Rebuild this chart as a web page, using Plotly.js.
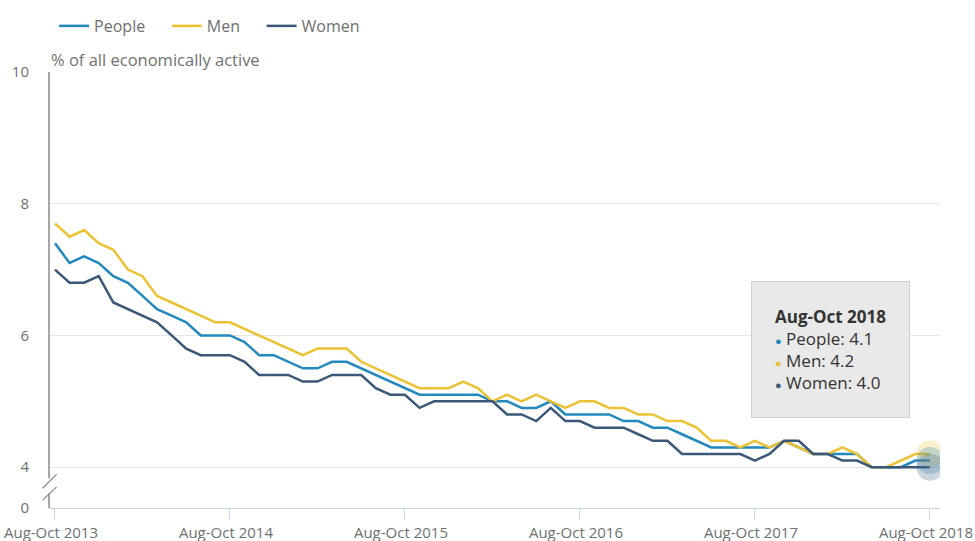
<!DOCTYPE html>
<html>
<head>
<meta charset="utf-8">
<script src="https://cdn.plot.ly/plotly-3.0.1.min.js"></script>
<style>
  html, body { margin: 0; padding: 0; background: #ffffff; }
  #chart { width: 975px; height: 541px; }
</style>
</head>
<body>
<div id="chart"></div>
<script>
// ---- Data ----
const categories = [
  "Aug-Oct 2013","Sep-Nov 2013","Oct-Dec 2013","Nov-Jan 2014","Dec-Feb 2014","Jan-Mar 2014",
  "Feb-Apr 2014","Mar-May 2014","Apr-Jun 2014","May-Jul 2014","Jun-Aug 2014","Jul-Sep 2014",
  "Aug-Oct 2014","Sep-Nov 2014","Oct-Dec 2014","Nov-Jan 2015","Dec-Feb 2015","Jan-Mar 2015",
  "Feb-Apr 2015","Mar-May 2015","Apr-Jun 2015","May-Jul 2015","Jun-Aug 2015","Jul-Sep 2015",
  "Aug-Oct 2015","Sep-Nov 2015","Oct-Dec 2015","Nov-Jan 2016","Dec-Feb 2016","Jan-Mar 2016",
  "Feb-Apr 2016","Mar-May 2016","Apr-Jun 2016","May-Jul 2016","Jun-Aug 2016","Jul-Sep 2016",
  "Aug-Oct 2016","Sep-Nov 2016","Oct-Dec 2016","Nov-Jan 2017","Dec-Feb 2017","Jan-Mar 2017",
  "Feb-Apr 2017","Mar-May 2017","Apr-Jun 2017","May-Jul 2017","Jun-Aug 2017","Jul-Sep 2017",
  "Aug-Oct 2017","Sep-Nov 2017","Oct-Dec 2017","Nov-Jan 2018","Dec-Feb 2018","Jan-Mar 2018",
  "Feb-Apr 2018","Mar-May 2018","Apr-Jun 2018","May-Jul 2018","Jun-Aug 2018","Jul-Sep 2018",
  "Aug-Oct 2018"
];

const people = [
  7.4, 7.1, 7.2, 7.1, 6.9, 6.8, 6.6, 6.4, 6.3, 6.2, 6.0, 6.0,
  6.0, 5.9, 5.7, 5.7, 5.6, 5.5, 5.5, 5.6, 5.6, 5.5, 5.4, 5.3,
  5.2, 5.1, 5.1, 5.1, 5.1, 5.1, 5.0, 5.0, 4.9, 4.9, 5.0, 4.8,
  4.8, 4.8, 4.8, 4.7, 4.7, 4.6, 4.6, 4.5, 4.4, 4.3, 4.3, 4.3,
  4.3, 4.3, 4.4, 4.3, 4.2, 4.2, 4.2, 4.2, 4.0, 4.0, 4.0, 4.1,
  4.1
];

const men = [
  7.7, 7.5, 7.6, 7.4, 7.3, 7.0, 6.9, 6.6, 6.5, 6.4, 6.3, 6.2,
  6.2, 6.1, 6.0, 5.9, 5.8, 5.7, 5.8, 5.8, 5.8, 5.6, 5.5, 5.4,
  5.3, 5.2, 5.2, 5.2, 5.3, 5.2, 5.0, 5.1, 5.0, 5.1, 5.0, 4.9,
  5.0, 5.0, 4.9, 4.9, 4.8, 4.8, 4.7, 4.7, 4.6, 4.4, 4.4, 4.3,
  4.4, 4.3, 4.4, 4.3, 4.2, 4.2, 4.3, 4.2, 4.0, 4.0, 4.1, 4.2,
  4.2
];

const women = [
  7.0, 6.8, 6.8, 6.9, 6.5, 6.4, 6.3, 6.2, 6.0, 5.8, 5.7, 5.7,
  5.7, 5.6, 5.4, 5.4, 5.4, 5.3, 5.3, 5.4, 5.4, 5.4, 5.2, 5.1,
  5.1, 4.9, 5.0, 5.0, 5.0, 5.0, 5.0, 4.8, 4.8, 4.7, 4.9, 4.7,
  4.7, 4.6, 4.6, 4.6, 4.5, 4.4, 4.4, 4.2, 4.2, 4.2, 4.2, 4.2,
  4.1, 4.2, 4.4, 4.4, 4.2, 4.2, 4.1, 4.1, 4.0, 4.0, 4.0, 4.0,
  4.0
];

const seriesNames = ["People", "Men", "Women"];
const xTickLabels = ["Aug-Oct 2013","Aug-Oct 2014","Aug-Oct 2015","Aug-Oct 2016","Aug-Oct 2017","Aug-Oct 2018"];
const yTickVals = [3.38, 4, 6, 8, 10];      // 3.38 = position of the broken-axis "0"
const yTickText = ["0", "4", "6", "8", "10"];
const yAxisTitle = "% of all economically active";

// ---- Styles ----
const colors = { People: "#2389bd", Men: "#ecc232", Women: "#3b5878" };
const textGrey = "#707070";
const FONT = "'Open Sans', sans-serif";
const legendPad = "\u00a0\u00a0\u00a0\u00a0";

const seriesData = { People: people, Men: men, Women: women };
const last = categories.length - 1;

const traces = [];
seriesNames.forEach(name => {
  traces.push({
    type: "scatter", mode: "lines", name: name + legendPad,
    x: categories, y: seriesData[name],
    line: { color: colors[name], width: 2.5 },
    hoverinfo: "skip"
  });
});
// hover halos on the last point
["Men", "People", "Women"].forEach(name => {
  traces.push({
    type: "scatter", mode: "markers", showlegend: false, hoverinfo: "skip",
    x: [categories[last]], y: [seriesData[name][last]],
    marker: { color: colors[name], size: 27, opacity: 0.25, line: { width: 0 } }
  });
});

// tooltip text
const tipLines = ["<b>" + categories[last] + "</b>"];
seriesNames.forEach(name => {
  tipLines.push('<span style="color:' + colors[name] + ';font-size:11px">\u25CF</span> ' +
    name + ": " + seriesData[name][last].toFixed(1));
});

const axisCol = "#8a8a8a";
const layout = {
  width: 975, height: 541,
  margin: { l: 49, r: 35, t: 72, b: 33 },
  paper_bgcolor: "#ffffff", plot_bgcolor: "#ffffff",
  font: { family: FONT, color: textGrey, size: 15 },
  showlegend: true,
  legend: {
    orientation: "h", xref: "container", yref: "container",
    x: 0.0555, xanchor: "left", y: 0.952, yanchor: "middle",
    font: { family: FONT, size: 16, color: textGrey },
    itemwidth: 30, traceorder: "normal", bgcolor: "rgba(0,0,0,0)"
  },
  hovermode: false,
  xaxis: {
    type: "category",
    range: [-0.41, 60.69],
    tickmode: "array", tickvals: xTickLabels, ticktext: xTickLabels,
    ticklabelshift: -4,
    showgrid: false, zeroline: false,
    showline: true, linecolor: "#ccd6eb", linewidth: 1,
    ticks: "outside", ticklen: 11, tickcolor: "#ccd6eb", tickwidth: 1,
    tickfont: { family: FONT, size: 15, color: textGrey },
    fixedrange: true
  },
  yaxis: {
    range: [3.38, 10],
    tickmode: "array", tickvals: yTickVals, ticktext: yTickText,
    showgrid: true, gridcolor: "#e6e6e6", gridwidth: 1,
    zeroline: false, showline: false, ticks: "",
    ticklabelstandoff: 19,
    tickfont: { family: FONT, size: 15, color: textGrey },
    fixedrange: true
  },
  shapes: [
    // y-axis line with a break between 0 and 4
    { type: "line", xref: "paper", yref: "y", x0: 0, x1: 0, y0: 10, y1: 3.83,
      line: { color: axisCol, width: 1.5 } },
    { type: "line", xref: "paper", yref: "y", x0: 0, x1: 0, y0: 3.6, y1: 3.38,
      line: { color: axisCol, width: 1.5 } },
    { type: "line", xref: "paper", yref: "y", x0: -0.0072, x1: 0.0086, y0: 3.68, y1: 3.895,
      line: { color: axisCol, width: 1.2 } },
    { type: "line", xref: "paper", yref: "y", x0: -0.0072, x1: 0.0086, y0: 3.5, y1: 3.70,
      line: { color: axisCol, width: 1.2 } }
  ],
  annotations: [
    { xref: "paper", yref: "paper", x: 0, y: 1, xanchor: "left", yanchor: "bottom",
      xshift: 0, yshift: -1, showarrow: false, text: yAxisTitle,
      font: { family: FONT, size: 16.5, color: textGrey } },
    { xref: "paper", yref: "paper", x: 0.7879, y: 0.5206, xanchor: "left", yanchor: "top",
      showarrow: false, align: "left", text: tipLines.join("<br>"),
      bgcolor: "#e9e9e9", bordercolor: "#cfcfcf", borderwidth: 1, borderpad: 23,
      font: { family: FONT, size: 17, color: "#333333" } }
  ]
};

Plotly.newPlot("chart", traces, layout, { displayModeBar: false, staticPlot: true });
</script>
</body>
</html>
